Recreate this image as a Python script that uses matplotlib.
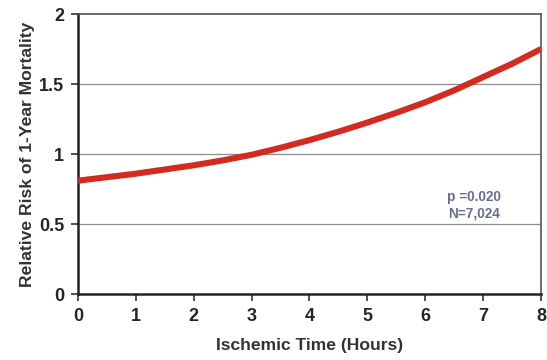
import matplotlib.pyplot as plt

hours = [0, 0.5, 1, 1.5, 2, 2.5, 3, 3.5, 4, 4.5, 5, 5.5, 6, 6.5, 7, 7.5, 8]
risk = [0.81, 0.835, 0.86, 0.89, 0.92, 0.955, 0.995, 1.045, 1.10, 1.16, 1.225, 1.295, 1.37, 1.455, 1.55, 1.645, 1.75]
x_ticks = [0, 1, 2, 3, 4, 5, 6, 7, 8]
y_ticks = [0, 0.5, 1, 1.5, 2]
y_labels = ['0', '0.5', '1', '1.5', '2']
annot = 'p =0.020\nN=7,024'

plt.rcParams['font.family'] = ['Liberation Sans', 'DejaVu Sans']

fig = plt.figure(figsize=(5.47, 3.6), dpi=100)
ax = fig.add_axes([0.1426, 0.183, 0.8464, 0.778])

for yv in [0.5, 1, 1.5]:
    ax.axhline(yv, color='#8c8c8c', lw=0.9, zorder=1)

ax.plot(hours, risk, color='#d42a20', lw=4.4, solid_capstyle='butt', zorder=3)

ax.set_xlim(0, 8)
ax.set_ylim(0, 2)
ax.set_xticks(x_ticks)
ax.set_yticks(y_ticks)
ax.set_yticklabels(y_labels)
ax.tick_params(labelsize=13, length=5, width=1.2, color='#333333', pad=5)
for lab in ax.get_xticklabels() + ax.get_yticklabels():
    lab.set_fontweight('bold')
    lab.set_color('#262626')

for s in ['left', 'bottom']:
    ax.spines[s].set_linewidth(1.8)
    ax.spines[s].set_color('#222222')
for s in ['top', 'right']:
    ax.spines[s].set_linewidth(1.2)
    ax.spines[s].set_color('#555555')

ax.set_xlabel('Ischemic Time (Hours)', fontsize=12.6, fontweight='bold', color='#333333', labelpad=9)
ax.set_ylabel('Relative Risk of 1-Year Mortality', fontsize=12.6, fontweight='bold', color='#333333', labelpad=3)

ax.text(6.84, 0.635, annot, fontsize=9.8, fontweight='bold', color='#66708c',
        ha='center', va='center', linespacing=1.25)

fig.savefig('out.png', dpi=100)
